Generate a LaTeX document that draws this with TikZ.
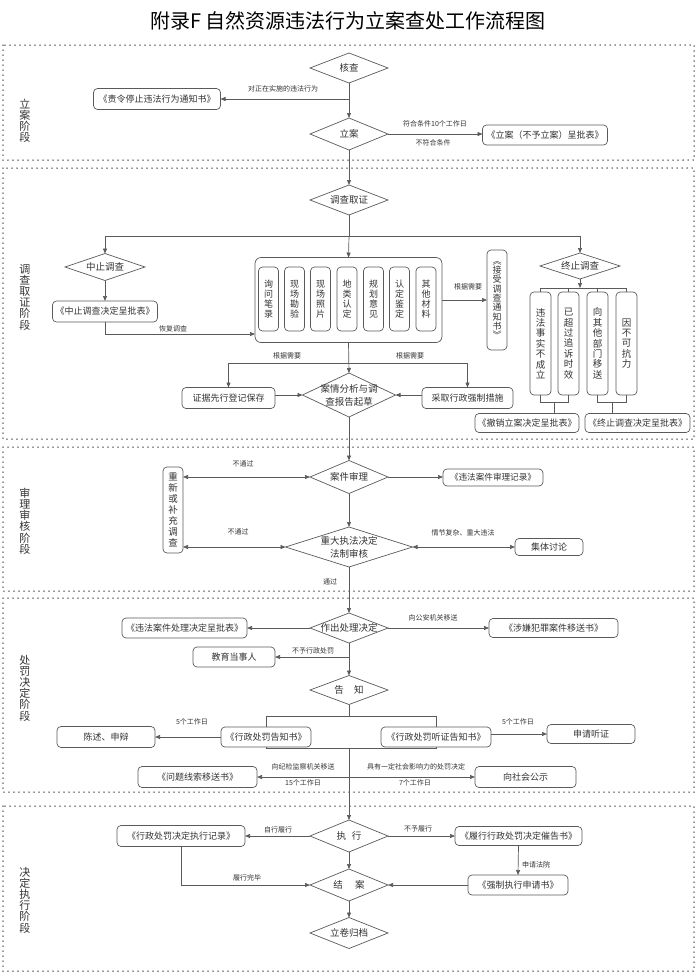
\documentclass[tikz,border=0pt]{standalone}
\usepackage{fontspec}
\setmainfont{Noto Sans CJK SC}
\usetikzlibrary{shapes.geometric,arrows.meta}
\pgfdeclarelayer{bg}
\pgfsetlayers{bg,main}
\definecolor{lc}{HTML}{5A5A5A}
\definecolor{tc}{HTML}{333333}
\begin{document}
\begin{tikzpicture}[x=1pt,y=-1pt,
 box/.style={draw=lc, line width=0.7pt, rounded corners=4pt, fill=white, inner sep=0pt, outer sep=0pt, text=tc, font=\fontsize{9}{10}\selectfont, align=center},
 vbox/.style={box, minimum width=20, font=\fontsize{9}{10}\selectfont},
 dia/.style={draw=lc, line width=0.7pt, diamond, inner sep=0pt, outer sep=0pt, minimum width=78, minimum height=31, fill=white},
 dtext/.style={text=tc, font=\fontsize{9.5}{12}\selectfont, align=center, inner sep=0pt},
 lab/.style={text=tc, font=\fontsize{7}{8}\selectfont, inner sep=0pt},
 stage/.style={draw=black!85, line width=1.5pt, line cap=round, dash pattern=on 0pt off 5pt},
 stagetext/.style={text=tc, font=\fontsize{11}{11.2}\selectfont, align=center, inner sep=0pt},
 ar/.style={draw=lc, line width=0.7pt, -{Triangle[length=5pt,width=4pt]}},
 ln/.style={draw=lc, line width=0.7pt},
 dar/.style={draw=lc, line width=0.7pt, {Triangle[length=5pt,width=4pt]}-{Triangle[length=5pt,width=4pt]}}
]
\useasboundingbox (0,0) rectangle (697,978);
\node[font=\fontsize{20}{24}\selectfont, inner sep=0pt] (title) at (348,21) {附录F 自然资源违法行为立案查处工作流程图};

% stage frames
\draw[stage] (3,45) rectangle (694,160);
\draw[stage] (3,168) rectangle (694,439);
\draw[stage] (3,447) rectangle (694,591);
\draw[stage] (3,598) rectangle (694,792);
\draw[stage] (3,806) rectangle (694,971);

\node[stagetext] (s1) at (25,121) {立\\案\\阶\\段};
\node[stagetext] (s2) at (25,297) {调\\查\\取\\证\\阶\\段};
\node[stagetext] (s3) at (25,521) {审\\理\\审\\核\\阶\\段};
\node[stagetext] (s4) at (25,688) {处\\罚\\决\\定\\阶\\段};
\node[stagetext] (s5) at (25,900) {决\\定\\执\\行\\阶\\段};

% ---------- stage 1 ----------
\node[dia, minimum height=30] (hc) at (349,68) {};
\node[dtext] (hcT) at (hc) {核查};
\node[dia, minimum height=32] (la) at (349,134) {};
\node[dtext] (laT) at (la) {立案};
\node[box, minimum width=127, minimum height=21] (tz) at (157,99) {《责令停止违法行为通知书》};
\node[box, minimum width=125, minimum height=20] (lb) at (545,135) {《立案（不予立案）呈批表》};

\draw[ar] (hc.south) -- (la.north);
\draw[ar] (hc.south |- tz.east) -- (tz.east);
\draw[ar] (la.east) -- (lb.west |- la.east);
\node[lab] (l1) at (283,89) {对正在实施的违法行为};
\node[lab] (l2) at (435,124) {符合条件10个工作日};
\node[lab] (l3) at (433,143) {不符合条件};

% ---------- stage 2 ----------
\node[dia, minimum height=30] (dc) at (349,200) {};
\node[dtext] (dcT) at (dc) {调查取证};
\draw[ar] (la.south) -- (dc.north);

\node[dia, minimum width=80, minimum height=27] (zz) at (105,267) {};
\node[dtext] (zzT) at (zz) {中止调查};
\node[dia, minimum width=80, minimum height=26] (zj) at (580,266) {};
\node[dtext] (zjT) at (zj) {终止调查};
\node[box, minimum width=105, minimum height=21] (zzb) at (105,311.5) {《中止调查决定呈批表》};

\node[box, rounded corners=6pt, minimum width=187, minimum height=85] (big) at (348.5,300) {};
\node[vbox, minimum height=64] (e1) at (268.5,299) {询\\问\\笔\\录};
\node[vbox, minimum height=64] (e2) at (294.5,299) {现\\场\\勘\\验};
\node[vbox, minimum height=64] (e3) at (320.5,299) {现\\场\\照\\片};
\node[vbox, minimum height=64] (e4) at (347,299) {地\\类\\认\\定};
\node[vbox, minimum height=64] (e5) at (373.5,299) {规\\划\\意\\见};
\node[vbox, minimum height=64] (e6) at (399.5,299) {认\\定\\鉴\\定};
\node[vbox, minimum height=64] (e7) at (426,299) {其\\他\\材\\料};

\node[vbox, minimum height=100, font=\fontsize{9}{9.3}\selectfont] (jsb) at (497,300) {︽\\接\\受\\调\\查\\通\\知\\书\\︾};

\coordinate (b2) at (349,236);
\draw[ln] (dc.south) -- (b2);
\draw[ln] (zz.north |- b2) -- (zj.north |- b2);
\draw[ar] (zz.north |- b2) -- (zz.north);
\draw[ar] (b2) -- (big.north);
\draw[ar] (zj.north |- b2) -- (zj.north);
\draw[ar] (zz.south) -- (zzb.north);
\coordinate (hf) at (255,334);
\draw[ar] (zzb.south) |- (big.west |- hf);
\node[lab] (l4) at (173,329) {恢复调查};
\draw[ar] (big.east) -- (jsb.west);
\node[lab] (l5) at (468,287) {根据需要};

% termination boxes
\node[box, minimum width=21, minimum height=103, font=\fontsize{9.5}{10.4}\selectfont] (t1) at (540.5,343.5) {违\\法\\事\\实\\不\\成\\立};
\node[box, minimum width=21, minimum height=103, font=\fontsize{9.5}{10.4}\selectfont] (t2) at (568.5,343.5) {已\\超\\过\\追\\诉\\时\\效};
\node[box, minimum width=21, minimum height=103, font=\fontsize{9.5}{10.4}\selectfont] (t3) at (597.5,343.5) {向\\其\\他\\部\\门\\移\\送};
\node[box, minimum width=21, minimum height=103, font=\fontsize{9.5}{10.4}\selectfont] (t4) at (626.5,343.5) {因\\不\\可\\抗\\力};
\coordinate (tb) at (580,288);
\draw[ar] (zj.south) -- (tb);
\draw[ln] (t1.north |- tb) -- (t4.north |- tb);
\draw[ln] (t1.north |- tb) -- (t1.north);
\draw[ln] (t2.north |- tb) -- (t2.north);
\draw[ln] (t3.north |- tb) -- (t3.north);
\draw[ln] (t4.north |- tb) -- (t4.north);

\node[box, minimum width=104, minimum height=19] (cxb) at (527,423) {《撤销立案决定呈批表》};
\node[box, minimum width=105, minimum height=19] (zcb) at (637.5,423) {《终止调查决定呈批表》};
\coordinate (m1) at (554.5,402);
\coordinate (m2) at (612,402);
\draw[ln] (t1.south) -- (t1.south |- m1) -- (t2.south |- m1) -- (t2.south);
\draw[ln] (m1) -- (m1 |- cxb.north);
\draw[ln] (t3.south) -- (t3.south |- m2) -- (t4.south |- m2) -- (t4.south);
\draw[ln] (m2) -- (m2 |- zcb.north);

% analysis
\node[dia, minimum width=93, minimum height=44] (aq) at (349,395) {};
\node[dtext, font=\fontsize{9.5}{13}\selectfont] (aqT) at (aq) {案情分析与调\\查报告起草};
\node[box, minimum width=93, minimum height=21] (zjb) at (228.5,398) {证据先行登记保存};
\node[box, minimum width=91, minimum height=21] (qzb) at (467.5,398) {采取行政强制措施};
\coordinate (b3) at (349,363);
\draw[ar] (big.south) -- (aq.north);
\draw[ln] (zjb.north |- b3) -- (qzb.north |- b3);
\draw[ar] (zjb.north |- b3) -- (zjb.north);
\draw[ar] (qzb.north |- b3) -- (qzb.north);
\draw[ar] (zjb.east |- aq.west) -- (aq.west);
\draw[ar] (qzb.west |- aq.east) -- (aq.east);
\node[lab] (l6) at (287,356) {根据需要};
\node[lab] (l7) at (410,356) {根据需要};

% ---------- stage 3 ----------
\node[dia, minimum height=33] (sl) at (349,477) {};
\node[dtext] (slT) at (sl) {案件审理};
\node[dia, minimum width=127, minimum height=40] (fz) at (349,547) {};
\node[dtext, font=\fontsize{9.5}{13}\selectfont] (fzT) at (fz) {重大执法决定\\法制审核};
\node[box, minimum width=20, minimum height=86, font=\fontsize{9.5}{11}\selectfont] (cx2) at (173,510) {重\\新\\或\\补\\充\\调\\查};
\node[box, minimum width=100, minimum height=17, font=\fontsize{8.6}{10}\selectfont] (jl) at (493,477.5) {《违法案件审理记录》};
\node[box, minimum width=68, minimum height=17] (jt) at (549,547) {集体讨论};

\draw[ar] (aq.south) -- (sl.north);
\draw[ar] (sl.south) -- (fz.north);
\draw[ar] (sl.east) -- (jl.west |- sl.east);
\draw[dar] (cx2.east |- sl.west) -- (sl.west);
\draw[dar] (cx2.east |- fz.west) -- (fz.west);
\draw[dar] (fz.east) -- (jt.west |- fz.east);
\node[lab] (l8) at (243,464) {不通过};
\node[lab] (l9) at (238,532) {不通过};
\node[lab] (l10) at (463,533) {情节复杂、重大违法};
\node[lab] (l11) at (330,582) {通过};

% ---------- stage 4 ----------
\node[dia, minimum height=30] (cl) at (349,628) {};
\node[dtext] (clT) at (cl) {作出处理决定};
\node[dia, minimum height=29] (gz) at (349,690) {};
\node[dtext] (gzT) at (gz) {告\hspace{1.1em}知};
\draw[ar] (fz.south) -- (cl.north);
\draw[ar] (cl.south) -- (gz.north);

\node[box, minimum width=125, minimum height=20] (cljb) at (184.5,628) {《违法案件处理决定呈批表》};
\node[box, minimum width=129, minimum height=19] (xs) at (553.5,628) {《涉嫌犯罪案件移送书》};
\node[box, minimum width=82, minimum height=20] (jy) at (234,657) {教育当事人};
\draw[ar] (cl.west) -- (cljb.east |- cl.west);
\draw[ar] (cl.east) -- (xs.west |- cl.east);
\coordinate (bj) at (349,657);
\draw[ar] (bj) -- (jy.east);
\node[lab] (l12) at (433,618) {向公安机关移送};
\node[lab] (l13) at (313,651) {不予行政处罚};

\coordinate (gt) at (349,716);
\coordinate (gb) at (349,748);
\node[box, minimum width=90, minimum height=20] (gzs) at (266,737) {《行政处罚告知书》};
\node[box, minimum width=110, minimum height=20] (tzs) at (436,737) {《行政处罚听证告知书》};
\begin{pgfonlayer}{bg}
\draw[ln] (gzs.center |- gt) rectangle (tzs.center |- gb);
\end{pgfonlayer}
\draw[ln] (gz.south) -- (gt);

\node[box, minimum width=98, minimum height=21] (cs) at (106,737) {陈述、申辩};
\node[box, minimum width=88, minimum height=19] (sq) at (591,734) {申请听证};
\draw[ar] (gzs.west) -- (cs.east);
\draw[ar] (tzs.east |- sq.west) -- (sq.west);
\node[lab] (l14) at (192,722) {5个工作日};
\node[lab] (l15) at (518,722) {5个工作日};

\node[box, minimum width=119, minimum height=21] (wt) at (197.5,777) {《问题线索移送书》};
\node[box, minimum width=101, minimum height=21] (gs) at (525.5,777) {向社会公示};
\coordinate (br) at (349,777);
\draw[ar] (br) -- (wt.east);
\draw[ar] (br) -- (gs.west);
\node[lab] (l16) at (303,767) {向纪检监察机关移送};
\node[lab] (l17) at (303,783) {15个工作日};
\node[lab] (l18) at (416,767) {具有一定社会影响力的处罚决定};
\node[lab] (l19) at (415,783) {7个工作日};

% ---------- stage 5 ----------
\node[dia, minimum height=32] (zx) at (349,836) {};
\node[dtext] (zxT) at (zx) {执\hspace{0.6em}行};
\node[dia, minimum height=32] (ja) at (349,885) {};
\node[dtext] (jaT) at (ja) {结\hspace{1.3em}案};
\node[dia, minimum height=31] (lj) at (349,933) {};
\node[dtext] (ljT) at (lj) {立卷归档};
\draw[ar] (gb) -- (zx.north);
\draw[ar] (zx.south) -- (ja.north);
\draw[ar] (ja.south) -- (lj.north);

\node[box, minimum width=128, minimum height=21] (zxjl) at (181,836) {《行政处罚决定执行记录》};
\node[box, minimum width=127, minimum height=19] (cg) at (518.5,836) {《履行行政处罚决定催告书》};
\node[box, minimum width=100, minimum height=20] (qz2) at (518,885) {《强制执行申请书》};
\draw[ar] (zx.west) -- (zxjl.east |- zx.west);
\draw[ar] (zx.east) -- (cg.west |- zx.east);
\draw[ar] (cg.south) -- (qz2.north);
\draw[ar] (qz2.west |- ja.east) -- (ja.east);
\draw[ar] (zxjl.south) |- (ja.west);
\node[lab] (l20) at (278,830) {自行履行};
\node[lab] (l21) at (418,829) {不予履行};
\node[lab] (l22) at (536,865) {申请法院};
\node[lab] (l23) at (247,878) {履行完毕};
\end{tikzpicture}
\end{document}
